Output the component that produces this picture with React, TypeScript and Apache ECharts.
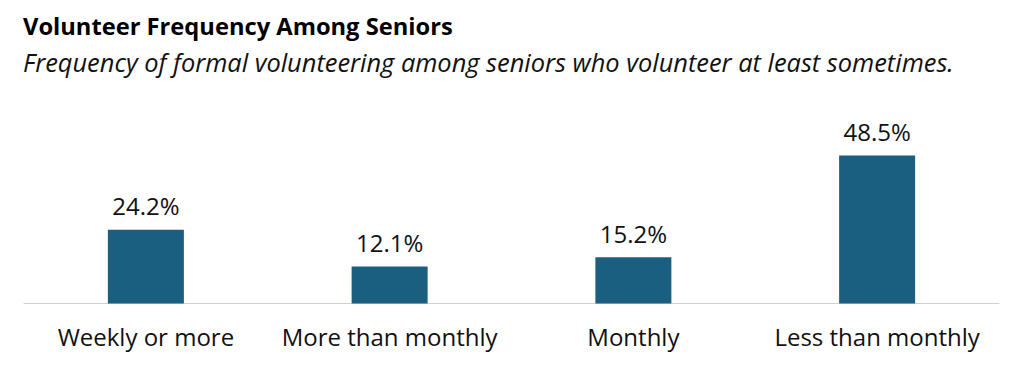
import React, { useEffect, useRef } from "react";
import * as echarts from "echarts";

const titleText = "Volunteer Frequency Among Seniors";
const subtitleText = "Frequency of formal volunteering among seniors who volunteer at least sometimes.";
const categories = ["Weekly or more", "More than monthly", "Monthly", "Less than monthly"];
const values = [24.2, 12.1, 15.2, 48.5];

const FONT = "'Open Sans', 'Noto Sans', sans-serif";

export default function App() {
  const ref = useRef<HTMLDivElement>(null);
  useEffect(() => {
    if (!ref.current) return;
    const chart = echarts.init(ref.current, null, { renderer: "svg" });
    chart.setOption({
      animation: false,
      backgroundColor: "#ffffff",
      title: [
        {
          text: titleText,
          left: 18,
          top: 9,
          textStyle: { fontFamily: FONT, fontSize: 23.7, fontWeight: "bold", color: "#000000" },
        },
        {
          text: subtitleText,
          left: 18,
          top: 44,
          textStyle: { fontFamily: FONT, fontSize: 25.4, fontStyle: "italic", fontWeight: "normal", color: "#111111" },
        },
      ],
      grid: { left: 24, right: 25, top: 151, bottom: 63.5, containLabel: false },
      xAxis: {
        type: "category",
        data: categories,
        axisLine: { show: true, lineStyle: { color: "#d0d0d0", width: 1 } },
        axisTick: { show: false },
        axisLabel: { interval: 0, fontFamily: FONT, fontSize: 24, color: "#111111", margin: 21 },
      },
      yAxis: {
        type: "value",
        min: 0,
        max: 50,
        show: false,
        splitLine: { show: false },
      },
      series: [
        {
          type: "bar",
          data: values,
          barWidth: 76,
          itemStyle: { color: "#1a5e80" },
          label: {
            show: true,
            position: "top",
            distance: 12,
            formatter: (p: any) => p.value.toFixed(1) + "%",
            fontFamily: FONT,
            fontSize: 24,
            color: "#111111",
          },
        },
      ],
    });
    return () => chart.dispose();
  }, []);
  return (
    <div
      ref={ref}
      style={{ position: "absolute", left: 0, top: 0, width: 1024, height: 367 }}
    />
  );
}
